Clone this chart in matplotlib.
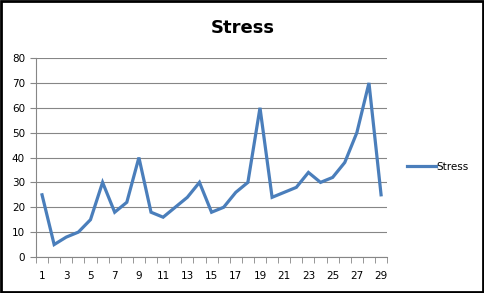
import numpy as np
import matplotlib.pyplot as plt
from matplotlib.patches import Rectangle

# data
days = np.arange(1, 30)
stress = [25, 5, 8, 10, 15, 30, 18, 22, 40, 18, 16, 20, 24, 30, 18,
          20, 26, 30, 60, 24, 26, 28, 34, 30, 32, 38, 50, 70, 25]
yticks = [0, 10, 20, 30, 40, 50, 60, 70, 80]
xlabels = [str(d) if d % 2 == 1 else "" for d in days]

fig = plt.figure(figsize=(4.85, 2.93), dpi=100)
ax = fig.add_axes([0.0742, 0.1229, 0.724, 0.679])

ax.plot(days, stress, color="#4A7EBB", lw=2.3, label="Stress", solid_joinstyle="miter")

ax.set_xlim(0.5, 29.5)
ax.set_ylim(0, 80)
ax.set_yticks(yticks)
ax.set_xticks(days)
ax.set_xticklabels(xlabels)
ax.set_xticks(np.arange(0.5, 30.5, 1), minor=True)
ax.tick_params(axis="x", which="major", length=0, pad=10, labelsize=7.5)
ax.tick_params(axis="x", which="minor", length=4, color="#868686", direction="out")
ax.tick_params(axis="y", length=4, color="#868686", direction="out", labelsize=7.5, pad=4)

ax.grid(axis="y", color="#868686", lw=0.8)
ax.set_axisbelow(True)
for side in ["top", "right"]:
    ax.spines[side].set_visible(False)
ax.spines["left"].set_color("#868686")
ax.spines["bottom"].set_color("#868686")

fig.text(0.5, 0.905, "Stress", ha="center", va="center", fontsize=13, fontweight="bold")

ax.legend(loc="center left", bbox_to_anchor=(1.03, 0.452), frameon=False,
          fontsize=7.5, handlelength=2.8, handletextpad=0.0)

fig.patches.append(Rectangle((0.002, 0.003), 0.994, 0.992, transform=fig.transFigure,
                             fill=False, edgecolor="black", lw=2))

fig.savefig("out.png", dpi=100)
